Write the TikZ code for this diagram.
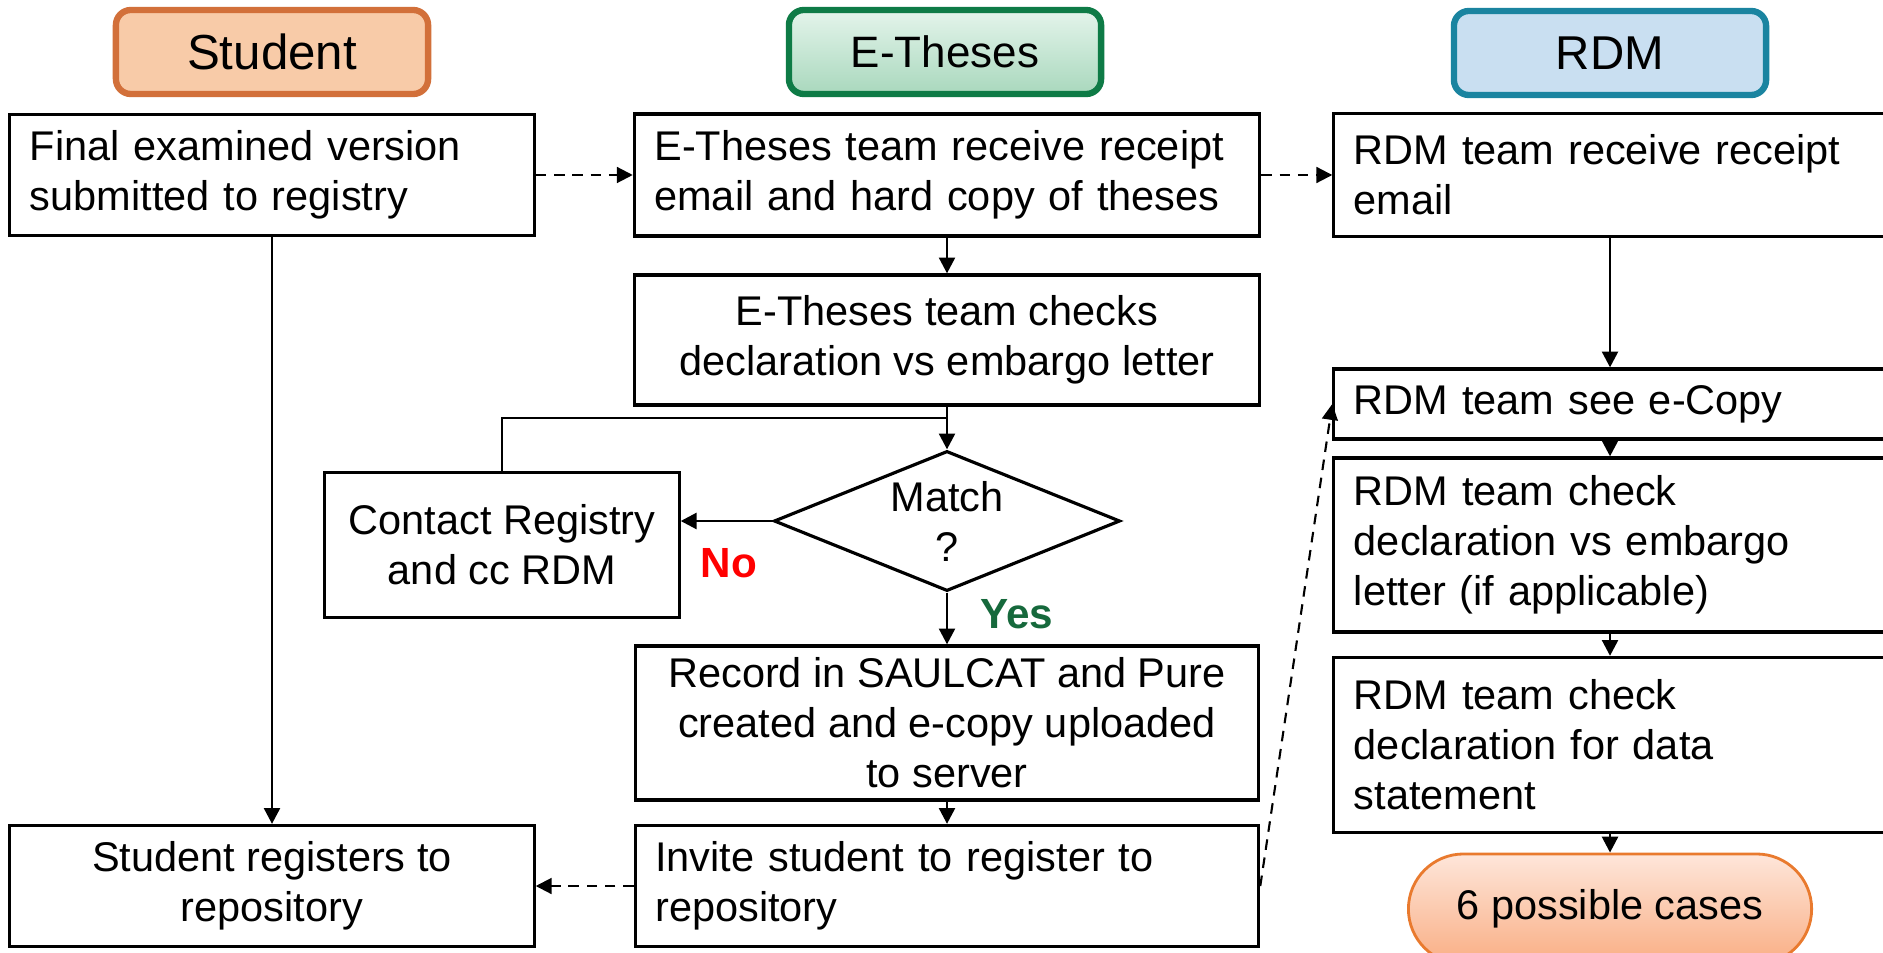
\documentclass[tikz,border=0pt]{standalone}
\usepackage{fontspec}
\setmainfont{Liberation Sans}
\usetikzlibrary{shapes.geometric, arrows.meta}

\definecolor{fondStu}{HTML}{F8CBA8}
\definecolor{bordStu}{HTML}{D2703A}
\definecolor{hautEth}{HTML}{E4F4EB}
\definecolor{basEth}{HTML}{A9D8BD}
\definecolor{bordEth}{HTML}{0E7B46}
\definecolor{fondRdm}{HTML}{C9DFF1}
\definecolor{bordRdm}{HTML}{1A84A0}
\definecolor{hautFin}{HTML}{FEE6DA}
\definecolor{basFin}{HTML}{F9AE84}
\definecolor{bordFin}{HTML}{E97A2E}
\definecolor{vertOui}{HTML}{16693C}

\begin{document}
\begin{tikzpicture}[x=0.01cm, y=-0.01cm]
    \tikzstyle{lien}=[-{Triangle[length=4.5pt,width=4.5pt]}, line width=0.8pt]
    \tikzstyle{lien2}=[lien, line width=0.6pt, dash pattern=on 3pt off 2.2pt]
\tikzset{entete/.style={draw=#1, line width=1.8pt, rounded corners=0.15cm,
    minimum width=3.12cm, minimum height=0.84cm},
etape/.style={draw, line width=0.9pt, font=\fontsize{11.8}{14.2}\selectfont,
    minimum height=#1},
etape/.default={1.2cm},
gauche/.style={align=left, inner xsep=0.2cm, text width=#1},
centre/.style={align=center, minimum width=#1},
reponse/.style={font=\fontsize{12}{14}\selectfont\bfseries, text=#1}}

\path[use as bounding box, clip] (0,0) rectangle (1883,952);

\node[entete=bordStu, fill=fondStu, font=\fontsize{14}{16}\selectfont] (hStu) at (272,52){Student};
\node[entete=bordEth, top color=hautEth, bottom color=basEth, font=\fontsize{12.5}{15}\selectfont] (hEth) at (945,52){E-Theses};
\node[entete=bordRdm, fill=fondRdm, font=\fontsize{13.5}{16}\selectfont] (hRdm) at (1610,53){RDM};

\node[etape=1.21cm, gauche=4.84cm] (s1) at (272,175){Final examined version\\submitted to registry};
\node[etape=1.22cm, gauche=5.85cm] (e1) at (947,175){E-Theses team receive receipt\\email and hard copy of theses};
\node[etape=1.23cm, gauche=5.12cm] (r1) at (1610,175){RDM team receive receipt\\email};

\node[etape=1.3cm, centre=6.25cm] (e2) at (947,340){E-Theses team checks\\declaration vs embargo letter};
\node[draw, diamond, line width=0.9pt, aspect=2.47, inner sep=0pt, minimum width=3.46cm,
    minimum height=1.4cm, align=center, font=\fontsize{11.8}{14.2}\selectfont] (dia) at (947,521){Match\\?};
\node[etape=1.45cm, centre=3.54cm] (con) at (502,545){Contact Registry\\and cc RDM};
\node[reponse=red] (non) at (729,563){No};
\node[reponse=vertOui] (oui) at (1017,614){Yes};

\node[etape=1.54cm, centre=6.23cm] (e3) at (947,723){Record in SAULCAT and Pure\\created and e-copy uploaded\\to server};
\node[etape=1.21cm, gauche=5.83cm] (e4) at (947,886){Invite student to register to\\repository};
\node[etape=1.21cm, centre=5.24cm] (s2) at (272,886){Student registers to\\repository};

\node[etape=0.7cm, gauche=5.12cm] (r2) at (1610,404){RDM team see e-Copy};
\node[etape=1.74cm, gauche=5.12cm] (r3) at (1610,545){RDM team check\\declaration vs embargo\\letter (if applicable)};
\node[etape=1.75cm, gauche=5.12cm] (r4) at (1610,745){RDM team check\\declaration for data\\statement};
\node[draw=bordFin, line width=0.8pt, top color=hautFin, bottom color=basFin, rounded corners=0.55cm,
    minimum width=4.03cm, minimum height=1.1cm, font=\fontsize{11.8}{14.2}\selectfont] (fin) at (1610,909){6 possible cases};

\draw[lien2] (s1) -- (e1);
\draw[lien2] (e1) -- (r1);
\draw[lien] (s1) -- (s2);
\draw[lien] (e1) -- (e2);
\draw[lien] (e2) -- (dia);
\coordinate (jn) at (947,418);
\draw[line width=0.8pt] (con.north) |- (jn);
\draw[lien] (dia.west) -- (dia.west -| con.east);
\draw[lien] (dia) -- (e3);
\draw[lien] (e3) -- (e4);
\draw[lien2] (e4) -- (s2);
\draw[lien2] (e4.east) -- (r2.west);

\draw[lien] (r1) -- (r2);
\draw[lien] (r2) -- (r3);
\draw[lien] (r3) -- (r4);
\draw[lien] (r4) -- (fin);

  \end{tikzpicture}
\end{document}
